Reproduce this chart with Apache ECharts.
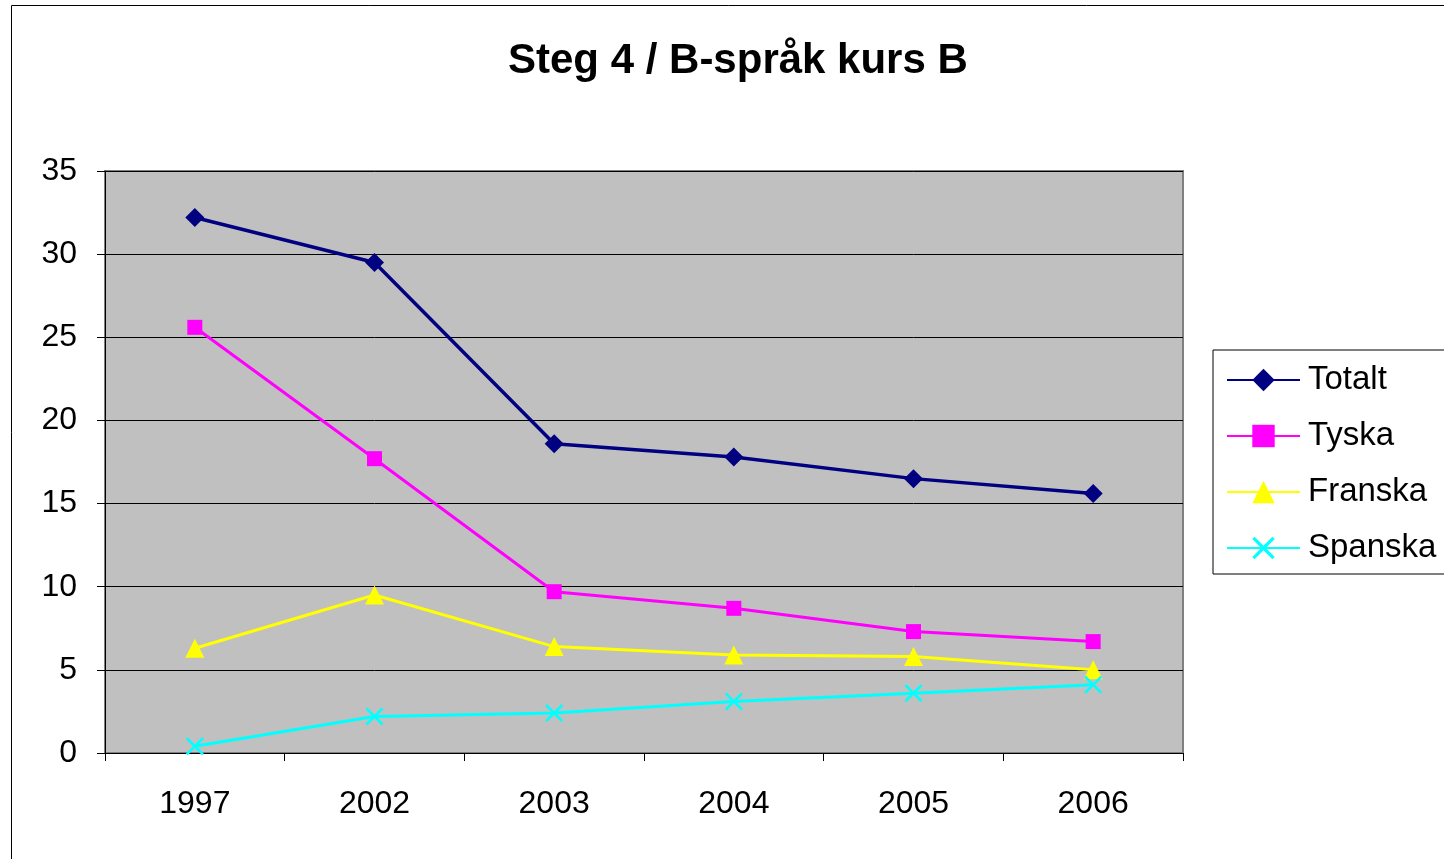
<!DOCTYPE html>
<html>
<head>
<meta charset="utf-8">
<script src="https://cdn.jsdelivr.net/npm/echarts@6/dist/echarts.min.js"></script>
<style>
  html, body { margin: 0; padding: 0; background: #fff; }
  #chart { width: 1444px; height: 859px; }
</style>
</head>
<body>
<div id="chart"></div>
<script>
// Steg 4 / B-språk kurs B
const years = ["1997", "2002", "2003", "2004", "2005", "2006"];
const totalt = [32.2, 29.5, 18.6, 17.8, 16.5, 15.6];
const tyska = [25.6, 17.7, 9.7, 8.7, 7.3, 6.7];
const franska = [6.3, 9.5, 6.4, 5.9, 5.8, 5.0];
const spanska = [0.4, 2.2, 2.4, 3.1, 3.6, 4.1];

const FONT = "Liberation Sans, Arial, sans-serif";
const crossPath = "path://M0,1 L1,0 L5,4 L9,0 L10,1 L6,5 L10,9 L9,10 L5,6 L1,10 L0,9 L4,5 Z";

function line(name, data, color, symbol, size, width) {
  return {
    name, data, type: "line",
    symbol, symbolSize: size,
    lineStyle: { color, width },
    itemStyle: { color },
    animation: false,
  };
}

const chart = echarts.init(document.getElementById("chart"), null, { renderer: "canvas" });
chart.setOption({
  backgroundColor: "#fff",
  title: {
    text: "Steg 4 / B-språk kurs B",
    left: 503, top: 35,
    textStyle: { fontFamily: FONT, fontSize: 42, fontWeight: "bold", color: "#000" },
  },
  graphic: [{
    type: "rect", left: 9, top: 3,
    shape: { width: 1500, height: 900 },
    style: { fill: "none", stroke: "#000", lineWidth: 1 },
    z: -1,
  }],
  legend: {
    orient: "vertical", left: 1213, top: 350,
    backgroundColor: "#fff", borderColor: "#000", borderWidth: 1,
    padding: [12, 20, 8, 13],
    itemWidth: 73, itemHeight: 28, itemGap: 20,
    textStyle: { fontFamily: FONT, fontSize: 33, color: "#000", lineHeight: 36, padding: [0, 0, 0, 3] },
    data: ["Totalt", "Tyska", "Franska", "Spanska"],
  },
  grid: {
    left: 105, top: 171, width: 1078, height: 582,
    show: true, backgroundColor: "#C0C0C0", borderColor: "#808080", borderWidth: 2,
  },
  xAxis: {
    type: "category", data: years, boundaryGap: true,
    axisLine: { lineStyle: { color: "#000", width: 1 } },
    axisTick: { show: true, length: 8, lineStyle: { color: "#000" } },
    axisLabel: { fontFamily: FONT, fontSize: 32, color: "#000", margin: 35 },
    splitLine: { show: false },
  },
  yAxis: {
    type: "value", min: 0, max: 35, interval: 5,
    axisLine: { show: true, lineStyle: { color: "#000", width: 1 } },
    axisTick: { show: true, length: 8, lineStyle: { color: "#000" } },
    axisLabel: { fontFamily: FONT, fontSize: 32, color: "#000", margin: 28 },
    splitLine: { lineStyle: { color: "#000", width: 1 } },
  },
  series: [
    line("Totalt", totalt, "#000080", "diamond", 19, 3.5),
    line("Tyska", tyska, "#FF00FF", "rect", 15, 3),
    line("Franska", franska, "#FFFF00", "triangle", 19, 3),
    line("Spanska", spanska, "#00FFFF", crossPath, 18, 3),
  ],
});
</script>
</body>
</html>
